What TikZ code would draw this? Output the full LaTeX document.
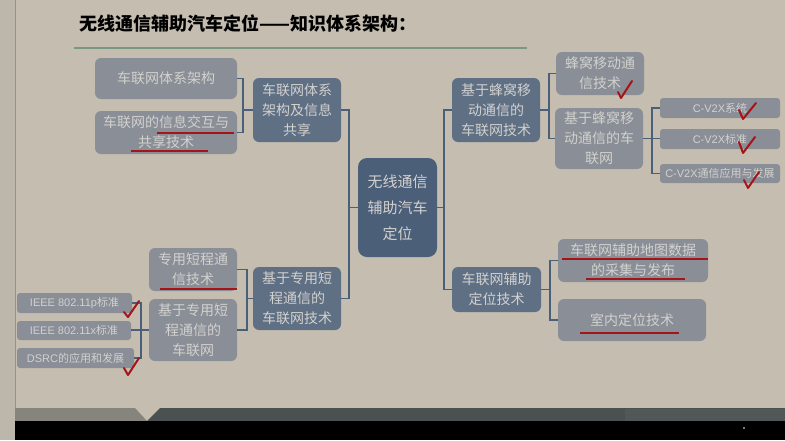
\documentclass[tikz,border=0pt]{standalone}
\usepackage{fontspec}
\newfontfamily\cjk{Noto Sans CJK SC}
\newfontfamily\latn{Liberation Sans}
\definecolor{bgc}{RGB}{197,189,176}
\definecolor{stripc}{RGB}{189,182,170}
\definecolor{leafc}{RGB}{137,142,151}
\definecolor{midc}{RGB}{95,111,132}
\definecolor{centc}{RGB}{76,95,120}
\definecolor{txtc}{RGB}{210,209,206}
\definecolor{connc}{RGB}{74,95,122}
\definecolor{redc}{RGB}{165,20,22}
\definecolor{titleline}{RGB}{120,152,130}
\definecolor{bandgray}{RGB}{133,133,125}
\definecolor{banddark}{RGB}{75,80,81}
\tikzset{
  box/.style={rounded corners=6pt, inner sep=0pt, align=center, text=txtc},
  leafbox/.style={box, fill=leafc, font=\cjk\fontsize{14}{20}\selectfont},
  smallbox/.style={box, fill=leafc, rounded corners=3pt, font=\cjk\fontsize{11}{13}\selectfont},
  midbox/.style={box, fill=midc, font=\cjk\fontsize{14}{20}\selectfont},
  centbox/.style={box, fill=centc, rounded corners=9pt, font=\cjk\fontsize{15}{26}\selectfont},
  conn/.style={draw=connc, line width=1.5pt},
  uline/.style={draw=redc, line width=1.8pt},
  checkmark/.style={draw=redc, line width=2pt, line join=round, line cap=round},
}
\begin{document}
\begin{tikzpicture}[x=1pt,y=-1pt]
\useasboundingbox (0,0) rectangle (785,440);
\fill[bgc] (0,0) rectangle (785,440);
\fill[stripc] (0,0) rectangle (15,440);
\draw[stripc!80!black, line width=0.6pt] (15,0) -- (15,440);
% bottom band
\fill[bandgray] (15,408) -- (135,408) -- (147,421) -- (15,421) -- cycle;
\fill[banddark] (160,408) -- (785,408) -- (785,421) -- (147,421) -- cycle;
\fill[banddark!96!white] (625,409) rectangle (785,421);
\fill[black] (15,421) rectangle (785,440);
\fill[gray!70] (744,428) circle (1.2);

% title
\node[anchor=west, font=\cjk\bfseries\fontsize{18}{20}\selectfont, text=black, inner sep=0pt] (title) at (79,24) {无线通信辅助汽车定位——知识体系架构：};
\draw[titleline, line width=1.5pt] (74,48) -- (527,48);

% nodes
\node[centbox, minimum width=79, minimum height=99] (C) at (397.5,207.5) {无线通信\\辅助汽车\\定位};

\node[midbox, minimum width=88, minimum height=64] (A) at (297,110) {车联网体系\\架构及信息\\共享};
\node[leafbox, minimum width=142, minimum height=41] (A1) at (166,78.5) {车联网体系架构};
\node[leafbox, minimum width=142, minimum height=43] (A2) at (166,132.5) {车联网的信息交互与\\共享技术};

\node[midbox, minimum width=88, minimum height=63] (B) at (297,298.5) {基于专用短\\程通信的\\车联网技术};
\node[leafbox, minimum width=88, minimum height=43] (B1) at (193,269.5) {专用短程通\\信技术};
\node[leafbox, minimum width=88, minimum height=62] (B2) at (193,330) {基于专用短\\程通信的\\车联网};
\node[smallbox, minimum width=115, minimum height=20] (B21) at (74.5,303) {{\latn IEEE 802.11p}标准};
\node[smallbox, minimum width=114, minimum height=19] (B22) at (74,330.5) {{\latn IEEE 802.11x}标准};
\node[smallbox, minimum width=117, minimum height=20] (B23) at (75.5,358) {{\latn DSRC}的应用和发展};

\node[midbox, minimum width=88, minimum height=64] (D) at (496,110) {基于蜂窝移\\动通信的\\车联网技术};
\node[leafbox, minimum width=88, minimum height=43] (D1) at (600,73.5) {蜂窝移动通\\信技术};
\node[leafbox, minimum width=88, minimum height=61] (D2) at (599,138.5) {基于蜂窝移\\动通信的车\\联网};
\node[smallbox, minimum width=120, minimum height=20] (D21) at (720,108) {{\latn C-V2X}系统};
\node[smallbox, minimum width=120, minimum height=20] (D22) at (720,139) {{\latn C-V2X}标准};
\node[smallbox, minimum width=120, minimum height=19] (D23) at (720,173.5) {{\latn C-V2X}通信应用与发展};

\node[midbox, minimum width=89, minimum height=45] (E) at (496.5,289.5) {车联网辅助\\定位技术};
\node[leafbox, minimum width=150, minimum height=43] (E1) at (633,260.5) {车联网辅助地图数据\\的采集与发布};
\node[leafbox, minimum width=148, minimum height=42] (E2) at (632,320) {室内定位技术};

% connectors
\draw[conn] (A.east) -| ([xshift=-9pt]C.west) |- (B.east);
\draw[conn] (C.west) -- ++(-9,0);
\draw[conn] (D.west) -| ([xshift=7pt]C.east) |- (E.west);
\draw[conn] (C.east) -- ++(7,0);
\draw[conn] (A1.east) -| ([xshift=-10pt]A.west) |- (A2.east);
\draw[conn] (A.west) -- ++(-10,0);
\draw[conn] (B1.east) -| ([xshift=-6pt]B.west) |- (B2.east);
\draw[conn] (B.west) -- ++(-6,0);
\draw[conn] (B21.east) -| ([xshift=-8pt]B2.west) |- (B23.east);
\draw[conn] (B2.west) -- (B22.east |- B2.west);
\draw[conn] (D1.west) -| ([xshift=9pt]D.east) |- (D2.west);
\draw[conn] (D.east) -- ++(9,0);
\draw[conn] (D21.west) -| ([xshift=9pt]D2.east) |- (D23.west);
\draw[conn] (D2.east) -- (D22.west |- D2.east);
\draw[conn] (E1.west) -| ([xshift=9pt]E.east) |- (E2.west);
\draw[conn] (E.east) -- ++(9,0);

% red underlines
\draw[uline] (157,133) -- (234,133);
\draw[uline] (131,151) -- (208,151);
\draw[uline] (160,289) -- (237,289);
\draw[uline] (562,259) -- (708,259);
\draw[uline] (586,279) -- (685,279);
\draw[uline] (580,333) -- (679,333);

% check marks
\draw[checkmark] (618,92) -- (621,98) -- (632,81);
\draw[checkmark] (739,110) -- (743,119) -- (756,103);
\draw[checkmark] (739,142) -- (743,153) -- (755,137);
\draw[checkmark] (744,180) -- (748,188) -- (759,172);
\draw[checkmark] (124,312) -- (128,317) -- (139,301);
\draw[checkmark] (124,368) -- (128,375) -- (139,358);
\end{tikzpicture}
\end{document}
